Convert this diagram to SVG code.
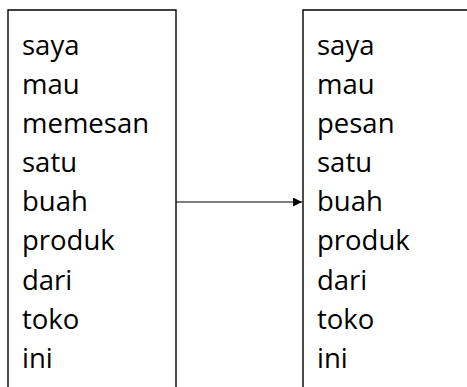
<svg xmlns="http://www.w3.org/2000/svg" width="467" height="387" viewBox="0 0 467 387">
<defs>
<style>
.box{fill:none;stroke:#000;stroke-width:1.4}
.t{font-family:"Open Sans","Noto Sans","Liberation Sans",sans-serif;font-size:27.5px;fill:#000}
.c{stroke:#000;stroke-width:1;fill:none}
</style>
<marker id="ah" markerWidth="10" markerHeight="10" refX="9" refY="4.5" orient="auto" markerUnits="userSpaceOnUse">
<path d="M0,0 L9,4.5 L0,9 Z" fill="#000"/>
</marker>
</defs>
<rect width="467" height="387" fill="#fff"/>
<g id="left">
<path class="box" d="M8,395 V10 H176 V395"/>
<text class="t" x="22" y="55">saya</text>
<text class="t" x="22" y="94">mau</text>
<text class="t" x="22" y="133">memesan</text>
<text class="t" x="22" y="172">satu</text>
<text class="t" x="22" y="211">buah</text>
<text class="t" x="22" y="250">produk</text>
<text class="t" x="22" y="290">dari</text>
<text class="t" x="22" y="329">toko</text>
<text class="t" x="22" y="368">ini</text>
</g>
<g id="right">
<path class="box" d="M303,395 V10 H475"/>
<text class="t" x="317" y="55">saya</text>
<text class="t" x="317" y="94">mau</text>
<text class="t" x="317" y="133">pesan</text>
<text class="t" x="317" y="172">satu</text>
<text class="t" x="317" y="211">buah</text>
<text class="t" x="317" y="250">produk</text>
<text class="t" x="317" y="290">dari</text>
<text class="t" x="317" y="329">toko</text>
<text class="t" x="317" y="368">ini</text>
</g>
<g id="connectors">
<line class="c" x1="176" y1="202" x2="302" y2="202" marker-end="url(#ah)"/>
</g>
</svg>
